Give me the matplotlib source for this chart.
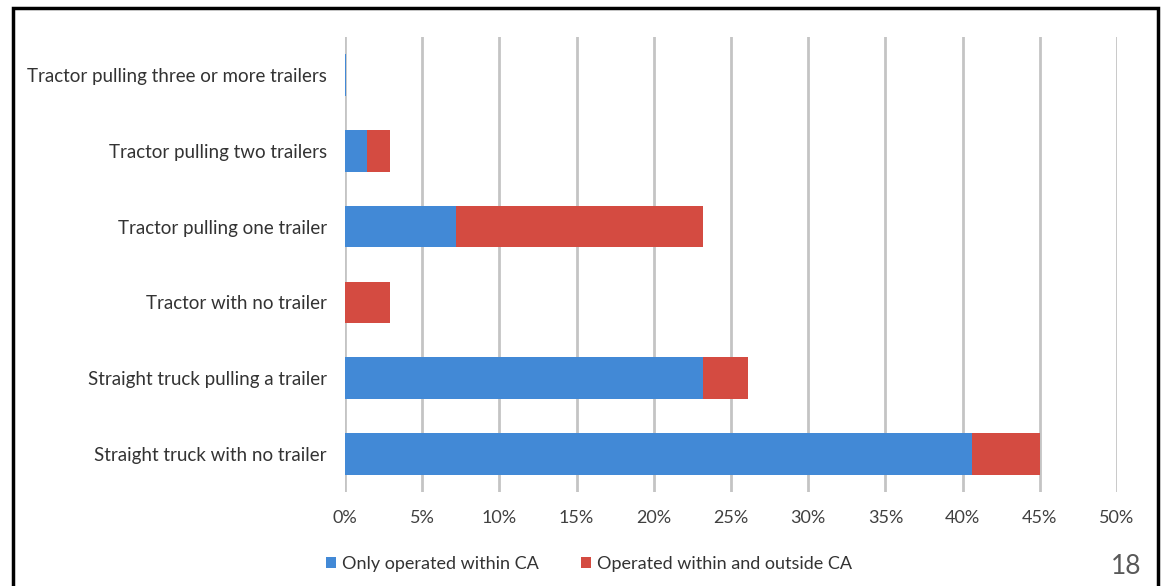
import matplotlib.pyplot as plt
from matplotlib.patches import Rectangle

categories = ['Straight truck with no trailer', 'Straight truck pulling a trailer',
              'Tractor with no trailer', 'Tractor pulling one trailer',
              'Tractor pulling two trailers', 'Tractor pulling three or more trailers']
within_only = [40.6, 23.2, 0.0, 7.2, 1.4, 0.05]
within_outside = [4.4, 2.9, 2.9, 16.0, 1.5, 0.0]
ticks = [0, 5, 10, 15, 20, 25, 30, 35, 40, 45, 50]

plt.rcParams['font.family'] = ['Lato', 'DejaVu Sans']

W, H = 1165, 586
fig = plt.figure(figsize=(W / 100, H / 100), dpi=100)
ax = fig.add_axes([345 / W, 1 - 492 / H, (1117 - 345) / W, (492 - 37) / H])

y = range(len(categories))
ax.barh(y, within_only, height=0.55, color='#4289d6', label='Only operated within CA', zorder=3)
ax.barh(y, within_outside, left=within_only, height=0.55, color='#d44b41',
        label='Operated within and outside CA', zorder=3)

ax.set_xlim(0, 50)
ax.set_ylim(-0.5, len(categories) - 0.5)
ax.set_xticks(ticks)
ax.set_xticklabels([f'{t}%' for t in ticks], fontsize=13, color='#404040')
ax.set_yticks(list(y))
ax.set_yticklabels(categories, fontsize=13.5, color='#333333')
ax.tick_params(axis='x', length=0, pad=13)
ax.tick_params(axis='y', length=0, pad=13)
ax.grid(axis='x', color='#c4c4c4', linewidth=2, zorder=0)
for s in ax.spines.values():
    s.set_visible(False)

ax.legend(loc='center left', bbox_to_anchor=(-0.025, -0.158), ncol=2, frameon=False,
          fontsize=13, handlelength=0.55, handleheight=0.55, handletextpad=0.35,
          columnspacing=2.35, labelcolor='#333333', borderpad=0, borderaxespad=0)

fig.add_artist(Rectangle((13 / W, -0.05), (1158 - 13) / W, 1 - 8 / H + 0.05,
                         transform=fig.transFigure, fill=False, edgecolor='black',
                         linewidth=2.5))
fig.text(1126 / W, 1 - 567 / H, '18', fontsize=19, color='#595959', ha='center', va='center')

fig.savefig('out.png', dpi=100)
